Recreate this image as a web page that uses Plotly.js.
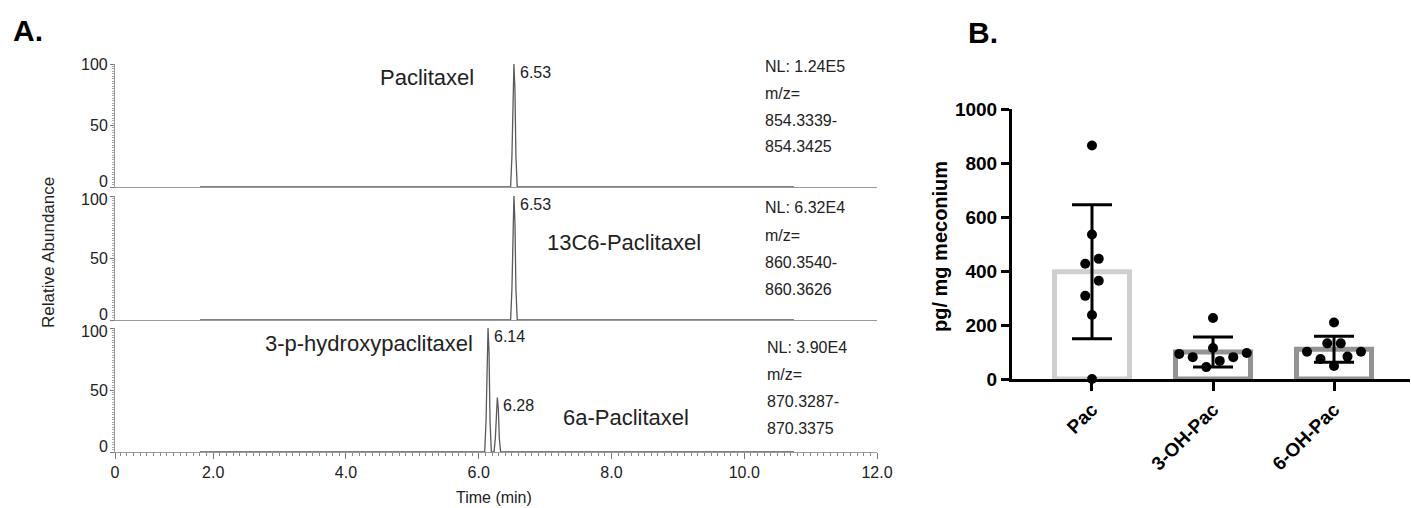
<!DOCTYPE html>
<html><head><meta charset="utf-8">
<script src="https://cdn.plot.ly/plotly-3.0.1.min.js"></script>
<style>html,body{margin:0;padding:0;background:#fff}#chart{width:1411px;height:508px}</style>
</head><body><div id="chart"></div>
<script>
// ================= DATA =================
// Panel A: extracted-ion chromatograms (time in min, relative abundance in %)
const xTickValuesA = [0, 2, 4, 6, 8, 10, 12];
const xTickLabelsA = ["0", "2.0", "4.0", "6.0", "8.0", "10.0", "12.0"];
const yTickValuesA = [0, 50, 100];
const yTickLabelsA = ["0", "50", "100"];

const paclitaxelTime  = [1.8, 6.48, 6.50, 6.515, 6.53, 6.545, 6.56, 6.58, 10.75];
const paclitaxelAbund = [0,   0,    25,   80,    100,  80,    25,   0,    0];

const c13Time  = [1.8, 6.48, 6.50, 6.515, 6.53, 6.545, 6.56, 6.58, 10.75];
const c13Abund = [0,   0,    25,   80,    100,  80,    25,   0,    0];

const hydroxyTime  = [1.8, 6.09, 6.11, 6.125, 6.14, 6.155, 6.17, 6.19, 6.23, 6.25, 6.265, 6.28, 6.295, 6.31, 6.33, 10.75];
const hydroxyAbund = [0,   0,    25,   80,    100,  80,    25,   0,    0,    11,   35,    44,   35,    11,   0,    0];

const peakTimesA   = [[6.53], [6.53], [6.14, 6.28]];
const peakHeightsA = [[100], [100], [100, 44]];

const compoundNames = ["Paclitaxel", "13C6-Paclitaxel", "3-p-hydroxypaclitaxel", "6a-Paclitaxel"];
const nlLabels = ["NL: 1.24E5", "NL: 6.32E4", "NL: 3.90E4"];
const mzLow    = ["854.3339-", "860.3540-", "870.3287-"];
const mzHigh   = ["854.3425", "860.3626", "870.3375"];

// Panel B: pg / mg meconium
const categoriesB = ["Pac", "3-OH-Pac", "6-OH-Pac"];
const meanB = [397, 100, 110];
const sdB   = [248, 56, 48];
const pacValues = [865, 535, 445, 427, 364, 308, 237, 0];
const oh3Values = [226, 115, 96, 93, 81, 81, 67, 44];
const oh6Values = [209, 132, 132, 101, 101, 83, 74, 48];
const yTickValuesB = [0, 200, 400, 600, 800, 1000];

// ================= LAYOUT CONSTANTS =================
const W = 1411, H = 508;
const FONT = "Liberation Sans, Arial, Helvetica, sans-serif";
const TXT = "#222222";
const px = x => x / W;
const py = y => 1 - y / H;

const X_RANGE_A = [0.52, 12];
const xDomA = [px(115), px(877)];
const yDomTop = [py(187), py(64)];
const yDomMid = [py(320), py(196)];
const yDomBot = [py(452), py(328)];

const xDomB = [px(1012), px(1410)];
const yDomB = [py(379), py(109)];
const X_RANGE_B = [-0.661, 2.628];
const Y_RANGE_B = [0, 1000];

// beeswarm-like row spreading (pixel space)
function spread(values) {
  const pxPerUnitY = (yDomB[1] - yDomB[0]) * H / (Y_RANGE_B[1] - Y_RANGE_B[0]);
  const pxPerCat = (xDomB[1] - xDomB[0]) * W / (X_RANGE_B[1] - X_RANGE_B[0]);
  const ROW_TOL = 17, STEP = 13.5;
  const idx = values.map((v, i) => i).sort((a, b) => values[a] - values[b]);
  const out = new Array(values.length).fill(0);
  let i = 0;
  while (i < idx.length) {
    const start = values[idx[i]] * pxPerUnitY;
    const row = [idx[i]];
    let j = i + 1;
    while (j < idx.length && values[idx[j]] * pxPerUnitY - start < ROW_TOL) { row.push(idx[j]); j++; }
    const n = row.length;
    const slots = [];
    for (let k = 0; k < n; k++) slots.push((k - (n - 1) / 2) * STEP);
    slots.sort((a, b) => Math.abs(a) - Math.abs(b) || a - b);
    row.forEach((r, k) => { out[r] = slots[k] / pxPerCat; });
    i = j;
  }
  return out;
}

// ================= TRACES =================
const lineStyle = {color: "#5a5a5a", width: 1.3};
const traces = [
  {type: "scatter", mode: "lines", x: paclitaxelTime, y: paclitaxelAbund, xaxis: "x", yaxis: "y", line: lineStyle, hoverinfo: "skip"},
  {type: "scatter", mode: "lines", x: c13Time, y: c13Abund, xaxis: "x2", yaxis: "y2", line: lineStyle, hoverinfo: "skip"},
  {type: "scatter", mode: "lines", x: hydroxyTime, y: hydroxyAbund, xaxis: "x3", yaxis: "y3", line: lineStyle, hoverinfo: "skip"},
  {type: "bar", x: categoriesB.map((c, i) => i), y: meanB, xaxis: "x4", yaxis: "y4", width: 0.62,
   marker: {color: "rgba(255,255,255,1)", line: {color: ["#cfcfcf", "#939393", "#939393"], width: 5}},
   error_y: {type: "data", array: sdB, visible: true, color: "#000", thickness: 3, width: 20},
   hoverinfo: "skip"}
];
[pacValues, oh3Values, oh6Values].forEach((vals, ci) => {
  const off = spread(vals);
  traces.push({type: "scatter", mode: "markers", x: vals.map((v, k) => ci + off[k]), y: vals,
    xaxis: "x4", yaxis: "y4", cliponaxis: false,
    marker: {color: "#000", size: 10}, hoverinfo: "skip"});
});

// ================= AXES =================
const axColor = "#999999";
function xA(anchor, showTicks) {
  const ax = {domain: xDomA, anchor: anchor, range: X_RANGE_A, showline: true, linecolor: axColor, linewidth: 1.2,
    showgrid: false, zeroline: false, automargin: false, fixedrange: true};
  if (showTicks) {
    Object.assign(ax, {
      tickmode: "array", tickvals: xTickValuesA.map(v => Math.max(v, X_RANGE_A[0])), ticktext: xTickLabelsA,
      ticks: "outside", ticklen: 6, tickwidth: 1, tickcolor: "#777",
      tickfont: {family: FONT, size: 16, color: TXT},
      minor: {tickmode: "linear", tick0: 0, dtick: 0.1, ticks: "outside", ticklen: 3, tickcolor: "#888", tickwidth: 1}
    });
  } else {
    Object.assign(ax, {showticklabels: false, ticks: ""});
  }
  return ax;
}
function yA(dom, anchor) {
  return {domain: dom, anchor: anchor, range: [0, 100], showline: true, linecolor: axColor, linewidth: 1.2,
    showgrid: false, zeroline: false, automargin: false, fixedrange: true,
    tickmode: "array", tickvals: yTickValuesA, showticklabels: false,
    ticks: "outside", ticklen: 4, tickwidth: 1, tickcolor: "#777",
    minor: {tickmode: "linear", tick0: 0, dtick: 2, ticks: "outside", ticklen: 2, tickcolor: "#aaa", tickwidth: 1}};
}

const bold = {family: FONT, size: 19, color: "#000", weight: "bold"};

// ================= ANNOTATIONS =================
const ann = [];
function addText(text, x, y, opts) {
  ann.push(Object.assign({text: text, x: px(x), y: py(y), xref: "paper", yref: "paper", showarrow: false,
    xanchor: "center", yanchor: "middle", font: {family: FONT, size: 16, color: TXT}}, opts || {}));
}
addText("A.", 28, 30, {font: {family: FONT, size: 30, color: "#000", weight: "bold"}});
addText("B.", 983, 32, {font: {family: FONT, size: 30, color: "#000", weight: "bold"}});

const nameFont = {family: FONT, size: 22, color: TXT};
addText(compoundNames[0], 427, 78, {font: nameFont});
addText(compoundNames[1], 624, 242, {font: nameFont});
addText(compoundNames[2], 369, 343, {font: nameFont});
addText(compoundNames[3], 626, 417, {font: nameFont});

const nlLeft = [763, 763, 765];
const nlTop = [66, 208, 347];
const nlGap = 27;
for (let p = 0; p < 3; p++) {
  [nlLabels[p], "m/z=", mzLow[p], mzHigh[p]].forEach((t, k) => {
    addText(t, nlLeft[p], nlTop[p] + k * nlGap, {xanchor: "left"});
  });
}
addText("Relative Abundance", 48, 253, {textangle: -90, font: {family: FONT, size: 17, color: TXT}});
addText("Time (min)", 494, 497, {font: {family: FONT, size: 16, color: TXT}});
addText("pg/ mg meconium", 940, 247, {textangle: -90, font: {family: FONT, size: 20, color: "#000", weight: "bold"}});

// y tick labels of the three chromatogram panels (nudged like the original so stacked labels don't collide)
const yAxesA = ["y", "y2", "y3"];
yAxesA.forEach((ya, p) => {
  yTickValuesA.forEach((v, k) => {
    let shift = 0;
    if (k === 0) shift = 6;
    if (k === yTickValuesA.length - 1 && p > 0) shift = -3;
    ann.push({text: yTickLabelsA[k], x: px(109), y: v, xref: "paper", yref: ya, showarrow: false,
      xanchor: "right", yanchor: "middle", yshift: shift, borderpad: 0,
      font: {family: FONT, size: 16, color: TXT}});
  });
});

// peak labels from peak arrays
const peakAxes = [["x", "y"], ["x2", "y2"], ["x3", "y3"]];
peakTimesA.forEach((times, p) => {
  times.forEach((t, k) => {
    ann.push({text: t.toFixed(2), x: t, y: peakHeightsA[p][k], xref: peakAxes[p][0], yref: peakAxes[p][1],
      showarrow: false, xanchor: "left", yanchor: "top", xshift: 4, yshift: 2,
      font: {family: FONT, size: 16, color: TXT}});
  });
});

const layout = {
  width: W, height: H, margin: {l: 0, r: 0, t: 0, b: 0, pad: 0},
  paper_bgcolor: "#fff", plot_bgcolor: "rgba(0,0,0,0)", showlegend: false,
  font: {family: FONT, color: TXT},
  xaxis: xA("y", false), yaxis: yA(yDomTop, "x"),
  xaxis2: xA("y2", false), yaxis2: yA(yDomMid, "x2"),
  xaxis3: xA("y3", true), yaxis3: yA(yDomBot, "x3"),
  xaxis4: {domain: xDomB, anchor: "y4", range: X_RANGE_B, tickmode: "array",
    tickvals: categoriesB.map((c, i) => i), ticktext: categoriesB, tickangle: -45,
    showline: true, linecolor: "#000", linewidth: 3, ticks: "outside", ticklen: 9, tickwidth: 3, tickcolor: "#000",
    tickfont: bold, showgrid: false, zeroline: false, automargin: false, fixedrange: true},
  yaxis4: {domain: yDomB, anchor: "x4", range: Y_RANGE_B, tickmode: "array", tickvals: yTickValuesB,
    showline: true, linecolor: "#000", linewidth: 3, ticks: "outside", ticklen: 8, tickwidth: 3, tickcolor: "#000",
    tickfont: bold, showgrid: false, zeroline: false, automargin: false, fixedrange: true},
  annotations: ann
};

Plotly.newPlot("chart", traces, layout, {staticPlot: true, displayModeBar: false});
</script>
</body></html>
